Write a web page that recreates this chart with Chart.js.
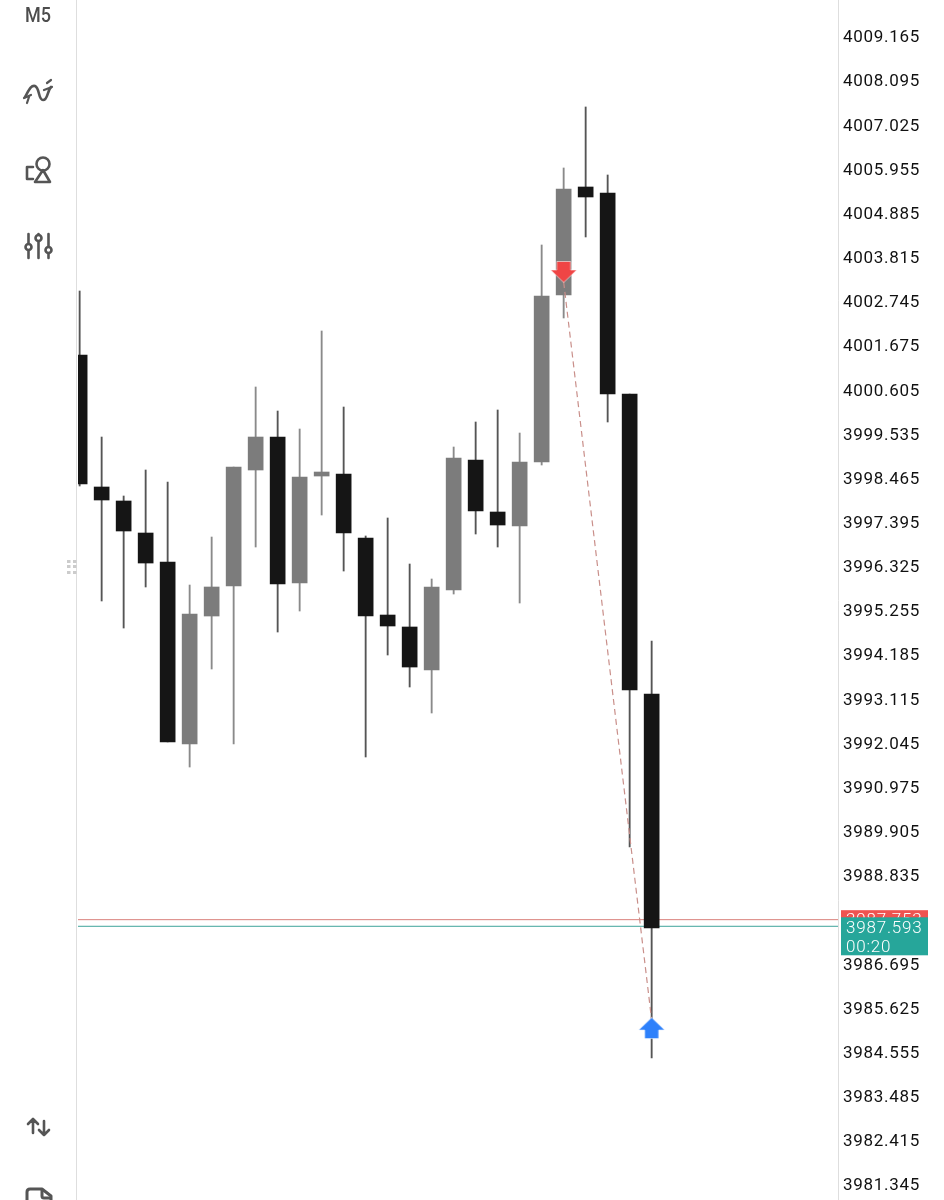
<!DOCTYPE html>
<html>
<head>
<meta charset="utf-8">
<title>M5</title>
<script src="https://cdn.jsdelivr.net/npm/chart.js@4"></script>
<style>
    html, body { margin: 0; padding: 0; background: #fff; }
    #wrap { position: relative; width: 944px; height: 1200px; overflow: hidden; }
    #myChart { position: absolute; left: 0; top: 0; }
    #side { position: absolute; left: 0; top: 0; width: 76px; height: 1200px; border-right: 1px solid #dedede; pointer-events: none; }
    #tf { position: absolute; left: 21px; top: 3px; width: 34px; text-align: center; font: 500 20px Roboto; color: #4d4d4d; transform: scaleX(.9); }
    #side svg { position: absolute; left: 0; top: 0; }
</style>
</head>
<body>
<div id="wrap">
    <canvas id="myChart" width="944" height="1200"></canvas>
    <div id="side">
        <div id="tf">M5</div>
        <svg width="77" height="1200" fill="none" stroke="#555" stroke-width="2.6" stroke-linecap="round" stroke-linejoin="round">
            <!-- indicators -->
            <path d="M25 97C29 90 31 85 35 86C40 88 38 100 43 100C48 100 47 91 51 87" />
            <path d="M24 98L31 95M44 90L52 87M27 103L29 97M47 83L51 80" stroke-width="2.2" />
            <!-- shapes -->
            <circle cx="43" cy="164" r="6.5" />
            <path d="M43 170L50 182H35ZM33 167H27V179H33" />
            <!-- settings -->
            <path d="M28.5 234V258M38.5 234V258M48.5 234V258" />
            <circle cx="28.5" cy="247" r="3" fill="#fff" />
            <circle cx="38.5" cy="238" r="3" fill="#fff" />
            <circle cx="48.5" cy="250" r="3" fill="#fff" />
            <!-- trade -->
            <path d="M33 1133V1119M28 1124L33 1119L38 1124M44 1121V1135M39 1130L44 1135L49 1130" />
            <!-- file -->
            <path d="M27 1204V1192Q27 1189 30 1189H42L51 1196V1204" stroke-width="3" />
            <path d="M42 1190V1196Q42 1198 44 1198H50" stroke-width="3" />
            <!-- drag handle -->
            <g fill="#ccc" stroke="none">
                <rect x="67" y="560" width="3.5" height="3" /><rect x="73" y="560" width="3.5" height="3" />
                <rect x="67" y="565" width="3.5" height="3" /><rect x="73" y="565" width="3.5" height="3" />
                <rect x="67" y="571" width="3.5" height="3" /><rect x="73" y="571" width="3.5" height="3" />
            </g>
        </svg>
    </div>
</div>

<script>
// candles, oldest first
const opens = [4001.435, 3998.237, 3997.898, 3997.122, 3996.420, 3992.010, 3995.111, 3995.838, 3998.649, 3999.448, 3995.911, 3998.503, 3998.552, 3997.001, 3995.135, 3994.845, 3993.803, 3995.741, 3998.891, 3997.631, 3997.292, 3998.843, 4002.889, 4005.506, 4005.361, 4000.490, 3993.221];
const highs = [4002.986, 3999.448, 3998.019, 3998.649, 3998.358, 3995.862, 3997.025, 3998.721, 4000.660, 4000.078, 3999.642, 4002.017, 4000.175, 3997.050, 3997.486, 3996.371, 3996.008, 3999.206, 3999.812, 4000.103, 3999.545, 4004.101, 4005.967, 4007.445, 4005.797, 4000.490, 3994.505];
const lows = [3998.261, 3995.475, 3994.820, 3995.814, 3992.058, 3991.452, 3993.827, 3992.010, 3996.783, 3994.723, 3995.232, 3997.558, 3996.201, 3991.695, 3994.166, 3993.391, 3992.761, 3995.644, 3997.098, 3996.783, 3995.426, 3998.770, 4002.332, 4004.295, 3999.812, 3989.514, 3984.401];
const closes = [3998.310, 3997.922, 3997.171, 3996.395, 3992.058, 3995.159, 3995.814, 3998.721, 3999.448, 3995.887, 3998.479, 3998.600, 3997.122, 3995.111, 3994.869, 3993.875, 3995.814, 3998.940, 3997.655, 3997.316, 3998.843, 4002.865, 4005.458, 4005.264, 4000.490, 3993.318, 3987.551];

const priceTicks = [4009.165, 4008.095, 4007.025, 4005.955, 4004.885, 4003.815, 4002.745, 4001.675, 4000.605, 3999.535, 3998.465, 3997.395, 3996.325, 3995.255, 3994.185, 3993.115, 3992.045, 3990.975, 3989.905, 3988.835, 3987.765, 3986.695, 3985.625, 3984.555, 3983.485, 3982.415, 3981.345];

// trade markers
const sellBar = 22, sellPrice = 4003.447, sellLinePrice = 4003.204;
const buyBar = 26, buyPrice = 3985.128, buyLinePrice = 3985.322;

const askPrice = 3987.753;
const bidPrice = 3987.593;
const countdown = '00:20';

const X_MIN = -0.075, X_MAX = 34.47;
const Y_MIN = 3980.961, Y_MAX = 4010.037;
const UP_COLOR = '#7c7c7c', DOWN_COLOR = '#151515';

function arrowImage(color, up) {
    const c = document.createElement('canvas');
    c.width = 28;
    c.height = 24;
    const ctx = c.getContext('2d');
    if (up) {
        ctx.translate(0, 24);
        ctx.scale(1, -1);
    }
    ctx.beginPath();
    ctx.moveTo(7, 1.5);
    ctx.lineTo(21, 1.5);
    ctx.lineTo(21, 10);
    ctx.lineTo(27, 10);
    ctx.lineTo(14, 22.5);
    ctx.lineTo(1, 10);
    ctx.lineTo(7, 10);
    ctx.closePath();
    ctx.fillStyle = color;
    ctx.strokeStyle = 'rgba(255,255,255,.55)';
    ctx.lineWidth = 1;
    ctx.fill();
    ctx.stroke();
    return c;
}

const isUp = closes.map((close, i) => close >= opens[i]);

// price tags on the axis, painted after the ticks
const priceTags = {
    id: 'priceTags',
    beforeDraw(chart) {
        chart.ctx.letterSpacing = '0.7px';
    },
    afterDraw(chart) {
        const ctx = chart.ctx;
        const y = chart.scales.y;
        const askY = y.getPixelForValue(askPrice);
        const bidY = y.getPixelForValue(bidPrice);
        ctx.save();
        ctx.textBaseline = 'alphabetic';
        ctx.letterSpacing = '0.8px';
        ctx.font = '300 17px Roboto';
        ctx.fillStyle = '#ef5350';
        ctx.fillRect(841, askY - 9.5, 87, 12);
        ctx.fillStyle = '#fff';
        ctx.fillText(askPrice.toFixed(3), 846, askY + 5);
        ctx.fillStyle = '#26a69a';
        ctx.fillRect(841, bidY - 9, 87, 38);
        ctx.fillStyle = '#fff';
        ctx.fillText(bidPrice.toFixed(3), 846, bidY + 7);
        ctx.fillText(countdown, 846, bidY + 26);
        ctx.restore();
    }
};

new Chart(document.getElementById('myChart'), {
    type: 'bar',
    data: {
        datasets: [{
            // wicks
            data: opens.map((open, i) => ({ x: i, y: [lows[i], highs[i]] })),
            backgroundColor: isUp.map(up => up ? '#8a8a8a' : '#555555'),
            barThickness: 1.2,
            grouped: false,
            order: 5
        }, {
            // bodies
            data: opens.map((open, i) => ({ x: i, y: [Math.min(open, closes[i]), Math.max(open, closes[i])] })),
            backgroundColor: isUp.map(up => up ? UP_COLOR : DOWN_COLOR),
            barThickness: 15,
            grouped: false,
            order: 4
        }, {
            type: 'line',
            data: [{ x: X_MIN, y: askPrice }, { x: X_MAX, y: askPrice }],
            borderColor: '#d9807b',
            borderWidth: 1,
            pointRadius: 0,
            order: 6
        }, {
            type: 'line',
            data: [{ x: X_MIN, y: bidPrice }, { x: X_MAX, y: bidPrice }],
            borderColor: '#3fa49b',
            borderWidth: 1,
            pointRadius: 0,
            order: 6
        }, {
            type: 'line',
            data: [{ x: sellBar, y: sellLinePrice }, { x: buyBar, y: buyLinePrice }],
            borderColor: '#c98f8a',
            borderWidth: 1.2,
            borderDash: [6, 4],
            pointRadius: 0,
            order: 2
        }, {
            type: 'line',
            data: [{ x: sellBar, y: sellPrice }],
            showLine: false,
            pointStyle: arrowImage('#ef4545', false),
            order: 1
        }, {
            type: 'line',
            data: [{ x: buyBar, y: buyPrice }],
            showLine: false,
            pointStyle: arrowImage('#2d80fb', true),
            order: 1
        }]
    },
    options: {
        responsive: false,
        animation: false,
        events: [],
        layout: { autoPadding: false, padding: { left: 78, top: 0, right: 0, bottom: 0 } },
        plugins: { legend: { display: false }, tooltip: { enabled: false } },
        scales: {
            x: {
                type: 'linear',
                min: X_MIN,
                max: X_MAX,
                offset: false,
                display: false
            },
            y: {
                position: 'right',
                min: Y_MIN,
                max: Y_MAX,
                afterFit(scale) {
                    scale.width = 106;
                    scale.paddingTop = 0;
                    scale.paddingBottom = 0;
                },
                afterBuildTicks(scale) { scale.ticks = priceTicks.map(value => ({ value })); },
                grid: { display: false, drawTicks: false },
                border: { display: true, color: '#dedede', width: 1 },
                ticks: {
                    autoSkip: false,
                    padding: 5,
                    labelOffset: 2,
                    color: '#111',
                    font: { family: 'Roboto', size: 17 },
                    callback: value => value.toFixed(3)
                }
            }
        }
    },
    plugins: [priceTags]
});
</script>
</body>
</html>
